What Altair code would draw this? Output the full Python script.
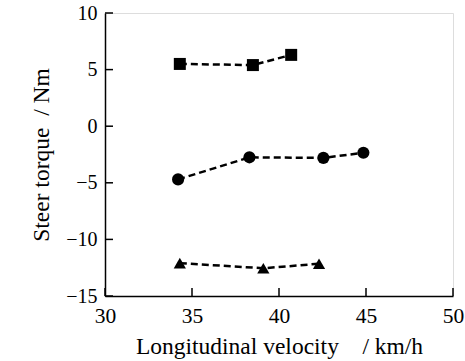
import altair as alt
import pandas as pd

# data
series_names = ["square", "circle", "triangle"]
sq_x = [34.3, 38.5, 40.7]
sq_y = [5.5, 5.4, 6.3]
ci_x = [34.2, 38.3, 42.55, 44.85]
ci_y = [-4.7, -2.75, -2.8, -2.35]
tr_x = [34.3, 39.1, 42.3]
tr_y = [-12.1, -12.55, -12.15]
x_ticks = [30, 35, 40, 45, 50]
y_ticks = [-15, -10, -5, 0, 5, 10]

rows = []
for name, xs, ys in zip(series_names, [sq_x, ci_x, tr_x], [sq_y, ci_y, tr_y]):
    for a, b in zip(xs, ys):
        rows.append({"series": name, "v": a, "t": b})
df = pd.DataFrame(rows)

FONT = "Liberation Serif"
W, H = 348, 283

xscale = alt.Scale(domain=[30, 50], nice=False, zero=False)
yscale = alt.Scale(domain=[-15, 10], nice=False, zero=False)

xaxis = alt.Axis(values=x_ticks, ticks=False, grid=False,
                 labelPadding=9, labelFontSize=21.5,
                 title="Longitudinal velocity \u00a0\u00a0\u00a0/ km/h",
                 titlePadding=8, labelFlush=False)
yaxis = alt.Axis(values=y_ticks, ticks=False, grid=False,
                 labelPadding=8, labelFontSize=20,
                 title="Steer torque \u00a0/ Nm",
                 titlePadding=12, labelFlush=False,
                 labelExpr="replace(datum.label, '-', '\u2212')")

base = alt.Chart(df)
lines = base.mark_line(strokeDash=[7, 4], color="black", strokeWidth=2.5).encode(
    x=alt.X("v:Q", scale=xscale, axis=xaxis),
    y=alt.Y("t:Q", scale=yscale, axis=yaxis),
    detail="series:N",
)
points = base.mark_point(filled=True, opacity=1, color="black").encode(
    x=alt.X("v:Q", scale=xscale, axis=xaxis),
    y=alt.Y("t:Q", scale=yscale, axis=yaxis),
    shape=alt.Shape("series:N", scale=alt.Scale(domain=series_names,
                    range=["square", "circle", "triangle-up"]), legend=None),
    size=alt.Size("series:N", scale=alt.Scale(domain=series_names,
                  range=[144, 150, 190]), legend=None),
)

xt = alt.Chart(pd.DataFrame({"v": x_ticks})).mark_rule(color="black", strokeWidth=1.5).encode(
    x=alt.X("v:Q", scale=xscale, axis=xaxis),
    y=alt.value(H), y2=alt.value(H - 8),
)
yt = alt.Chart(pd.DataFrame({"t": y_ticks})).mark_rule(color="black", strokeWidth=1.5).encode(
    y=alt.Y("t:Q", scale=yscale, axis=yaxis),
    x=alt.value(0), x2=alt.value(8),
)

chart = alt.layer(lines, points, xt, yt).properties(
    width=W, height=H,
    autosize=alt.AutoSizeParams(type="none"),
    padding={"left": 105, "top": 13, "right": 12, "bottom": 65},
    background="white",
).configure_view(stroke=None).configure(font=FONT).configure_axis(
    domainColor="black", domainWidth=1.5, labelColor="black", labelFont=FONT,
    titleFont=FONT, titleFontSize=23.5, titleFontWeight="normal",
    titleColor="black",
)

chart.save("out.html", embed_options={"renderer": "svg", "actions": False})
